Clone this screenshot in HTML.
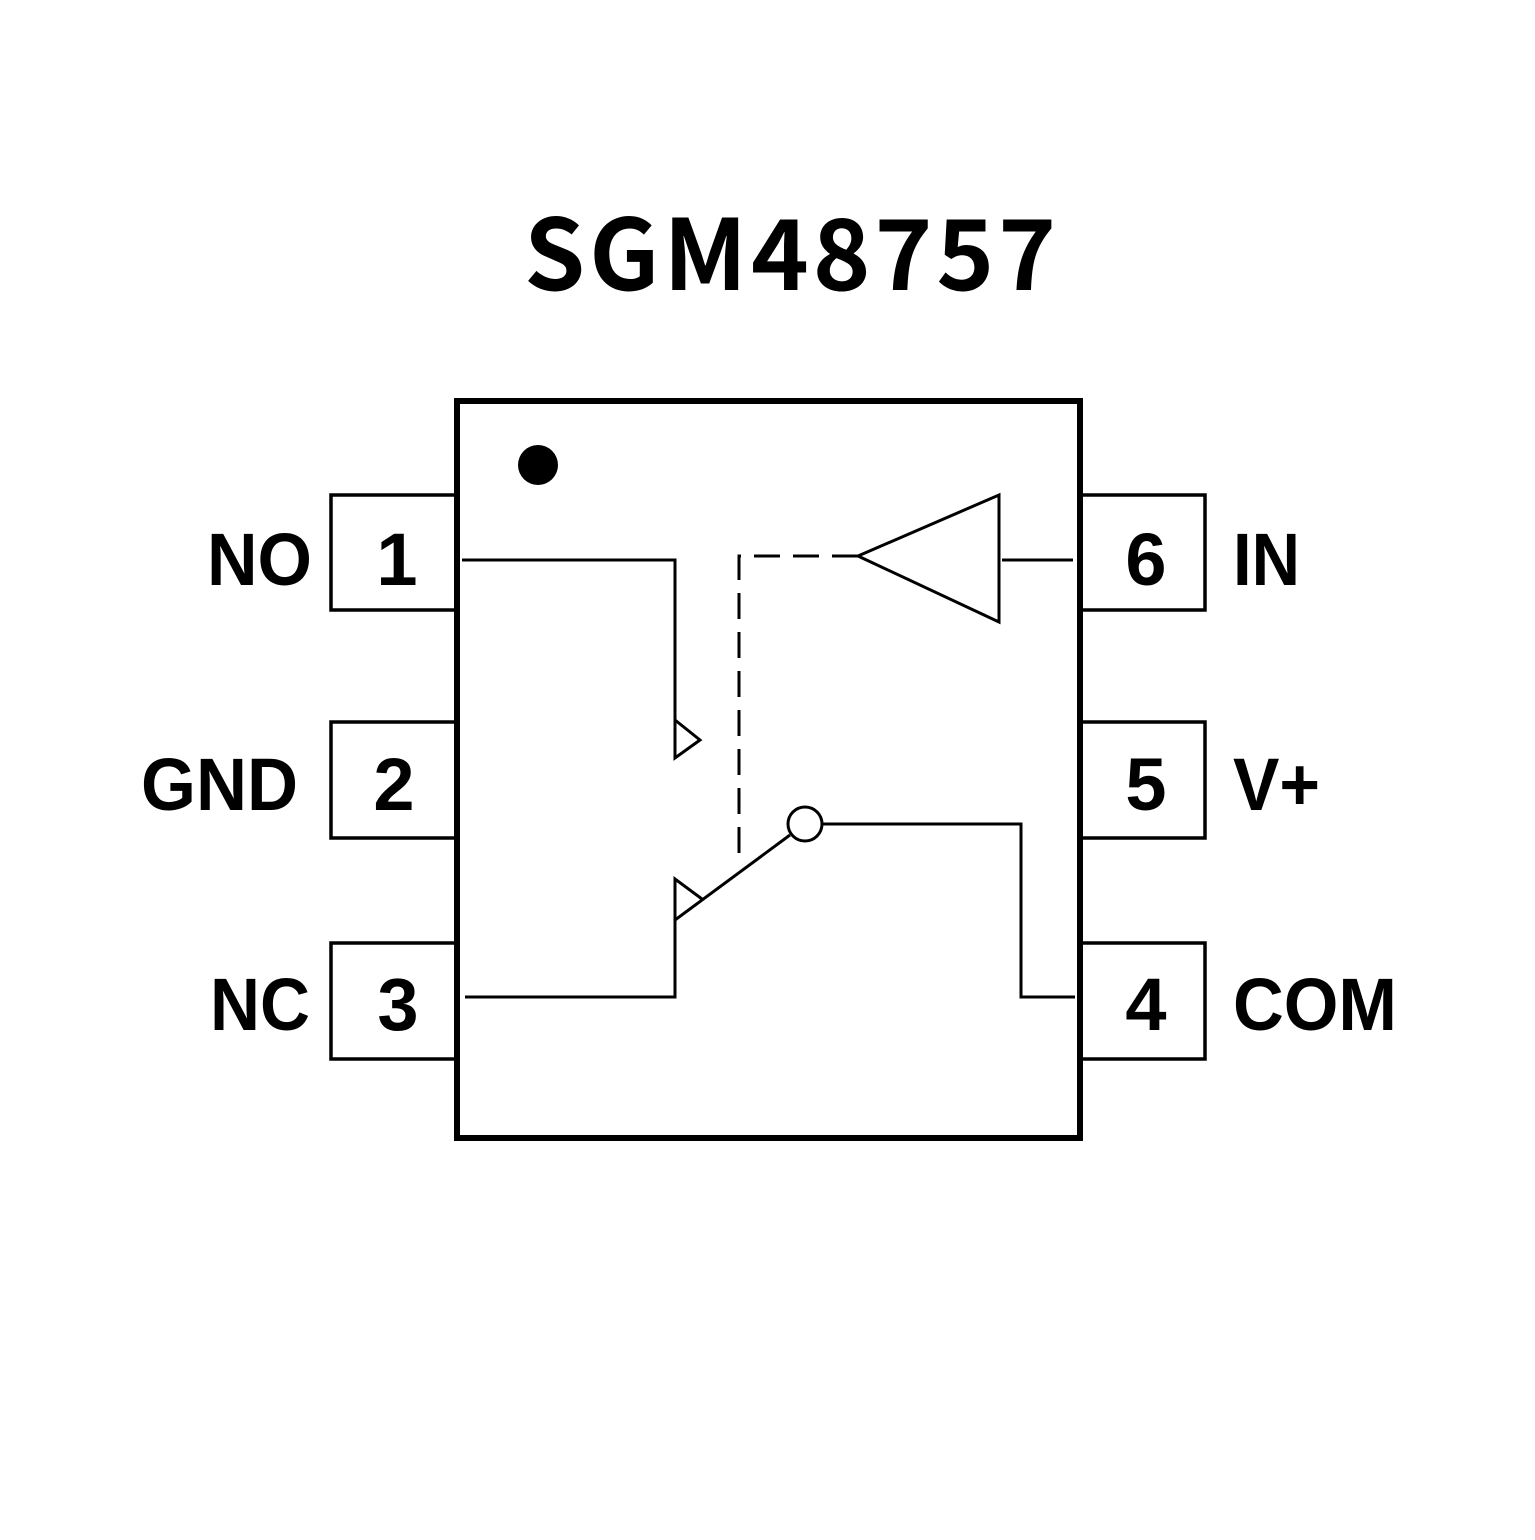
<!DOCTYPE html>
<html><head><style>html,body{margin:0;padding:0;background:#fff}</style></head>
<body>
<svg width="1535" height="1535" viewBox="0 0 1535 1535" xmlns="http://www.w3.org/2000/svg">
<rect width="1535" height="1535" fill="#fff"/>
<text x="792" y="290" text-anchor="middle" font-family="'Noto Sans CJK SC','DejaVu Sans',sans-serif" font-weight="bold" font-size="98" letter-spacing="4">SGM48757</text>
<g fill="none" stroke="#000" stroke-width="3.5">
<rect x="331" y="495" width="126" height="115"/>
<rect x="331" y="722" width="126" height="116"/>
<rect x="331" y="943" width="126" height="116"/>
<rect x="1080" y="495" width="125" height="115"/>
<rect x="1080" y="722" width="125" height="116"/>
<rect x="1080" y="943" width="125" height="116"/>
</g>
<rect x="457" y="401" width="623" height="737" fill="#fff" stroke="#000" stroke-width="6"/>
<circle cx="538" cy="465" r="20" fill="#000"/>
<g fill="none" stroke="#000" stroke-width="3">
<polyline points="462,560 675,560 675,758 700,740 675,720"/>
<polyline points="465,997 675,997 675,920 790,835"/>
<polyline points="675,920 675,879 702,899"/>
<circle cx="805" cy="824" r="17" fill="#fff"/>
<polyline points="822,824 1021,824 1021,997 1075,997"/>
<polygon points="858,556 999,495 999,622"/>
<line x1="1002" y1="560" x2="1073" y2="560"/>
<polyline points="858,556 739,556 739,862" stroke-dasharray="26,13"/>
</g>
<g font-family="'Liberation Sans',Arial,sans-serif" font-weight="bold" font-size="74" fill="#000">
<text x="207" y="585" textLength="105" lengthAdjust="spacingAndGlyphs">NO</text>
<text x="141" y="810" textLength="157" lengthAdjust="spacingAndGlyphs">GND</text>
<text x="210" y="1030" textLength="100" lengthAdjust="spacingAndGlyphs">NC</text>
<text x="397" y="585" text-anchor="middle">1</text>
<text x="394" y="810" text-anchor="middle">2</text>
<text x="398" y="1030" text-anchor="middle">3</text>
<text x="1146" y="585" text-anchor="middle">6</text>
<text x="1146" y="810" text-anchor="middle">5</text>
<text x="1146" y="1030" text-anchor="middle">4</text>
<text x="1233" y="585" textLength="67" lengthAdjust="spacingAndGlyphs">IN</text>
<text x="1233" y="810" textLength="87" lengthAdjust="spacingAndGlyphs">V+</text>
<text x="1233" y="1030" textLength="164" lengthAdjust="spacingAndGlyphs">COM</text>
</g>
</svg>
</body></html>
